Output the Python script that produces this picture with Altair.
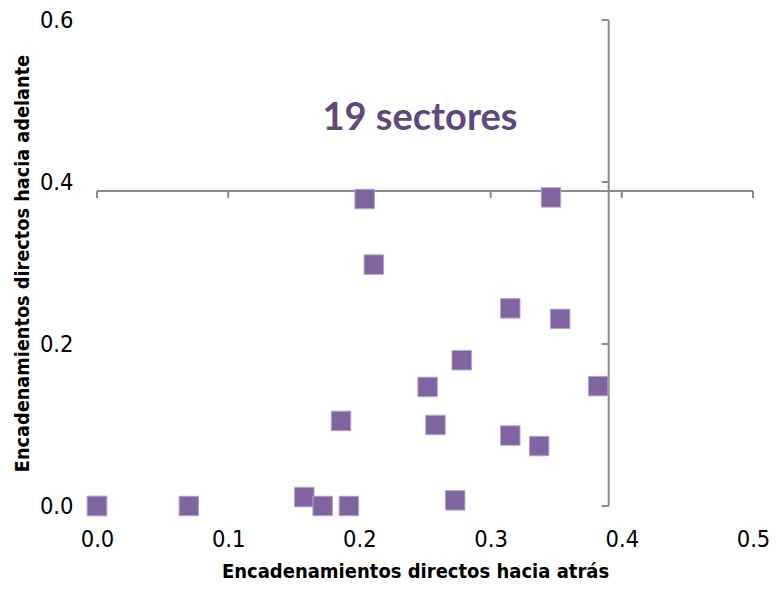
import altair as alt
import pandas as pd

# Data
backward = [0.0, 0.0, 0.070, 0.158, 0.172, 0.192, 0.186, 0.204, 0.211, 0.252,
            0.258, 0.278, 0.273, 0.315, 0.315, 0.337, 0.346, 0.353, 0.382]
forward = [0.0, 0.0, 0.0, 0.011, 0.0, 0.0, 0.105, 0.379, 0.298, 0.147,
           0.100, 0.180, 0.007, 0.244, 0.087, 0.074, 0.381, 0.231, 0.148]
x_ticks = [0.0, 0.1, 0.2, 0.3, 0.4, 0.5]
y_ticks = [0.0, 0.2, 0.4, 0.6]
cross_x = [0.39]
cross_y = [0.389]
label_text = ["19 sectores"]

FONT = "Liberation Sans Narrow, Arial Narrow, DejaVu Sans Condensed, sans-serif"
LINE = "#8a8a8a"
PURPLE = "#8064a2"

pts = pd.DataFrame({"atras": backward, "adelante": forward})
xt = pd.DataFrame({"t": x_ticks})
yt = pd.DataFrame({"t": y_ticks})
hline = pd.DataFrame({"x": [x_ticks[0]], "x2": [x_ticks[-1]], "y": cross_y})
vline = pd.DataFrame({"x": cross_x, "y": [y_ticks[0]], "y2": [y_ticks[-1]]})
txt = pd.DataFrame({"label": label_text})

xscale = alt.Scale(domain=[0, 0.5], nice=False, zero=False)
yscale = alt.Scale(domain=[0, 0.6], nice=False, zero=False)

XT = "Encadenamientos  directos hacia atrás"
YT = "Encadenamientos directos hacia adelante"

xaxis = alt.Axis(values=x_ticks, format=".1f", domain=False, ticks=False, grid=False,
                 labelFont=FONT, labelFontSize=23.5, labelColor="black", labelPadding=21,
                 labelFlush=False, labelOverlap=False,
                 title=XT, titleFont=FONT,
                 titleFontSize=20, titleFontWeight="bold", titleColor="black",
                 titleX=318, titleY=71, titleBaseline="alphabetic")
yaxis = alt.Axis(values=y_ticks, format=".1f", domain=False, ticks=False, grid=False,
                 labelFont=FONT, labelFontSize=23.5, labelColor="black", labelPadding=24,
                 labelFlush=False, labelOverlap=False,
                 title=YT, titleFont=FONT,
                 titleFontSize=19.7, titleFontWeight="bold", titleColor="black",
                 titleAngle=-90, titleX=-75, titleY=243, titleBaseline="middle",
                 titleAlign="center")

points = alt.Chart(pts).mark_square(size=380, color=PURPLE, opacity=1, filled=True,
                                    stroke="#b4a5c9", strokeWidth=1).encode(
    x=alt.X("atras:Q", scale=xscale, axis=xaxis, title=XT),
    y=alt.Y("adelante:Q", scale=yscale, axis=yaxis, title=YT))

h = alt.Chart(hline).mark_rule(color=LINE, strokeWidth=2).encode(
    x=alt.X("x:Q", scale=xscale, title=XT), x2="x2:Q",
    y=alt.Y("y:Q", scale=yscale, title=YT))
v = alt.Chart(vline).mark_rule(color=LINE, strokeWidth=2).encode(
    x=alt.X("x:Q", scale=xscale, title=XT),
    y=alt.Y("y:Q", scale=yscale, title=YT), y2="y2:Q")
xtk = alt.Chart(xt).mark_tick(orient="vertical", size=7, thickness=2, color=LINE,
                              yOffset=3.5, opacity=1).encode(
    x=alt.X("t:Q", scale=xscale, title=XT),
    y=alt.Y("yc:Q", scale=yscale, title=YT)).transform_calculate(yc=str(cross_y[0]))
ytk = alt.Chart(yt).mark_tick(orient="horizontal", size=7, thickness=2, color=LINE,
                              xOffset=-3.5, opacity=1).encode(
    y=alt.Y("t:Q", scale=yscale, title=YT),
    x=alt.X("xc:Q", scale=xscale, title=XT)).transform_calculate(xc=str(cross_x[0]))

text = alt.Chart(txt).mark_text(font="Lato", fontSize=38, fontWeight="bold",
                                color="#5f497a", align="center",
                                baseline="alphabetic").encode(
    text="label:N", x=alt.value(323), y=alt.value(110))

chart = alt.layer(h, v, xtk, ytk, points, text).properties(
    width=656, height=486,
    padding={"left": 89, "top": 12, "right": 16, "bottom": 76},
    autosize=alt.AutoSizeParams(type="none"),
    background="white",
).configure_view(stroke=None)

chart.save("out.html", embed_options={"renderer": "svg", "actions": False})
